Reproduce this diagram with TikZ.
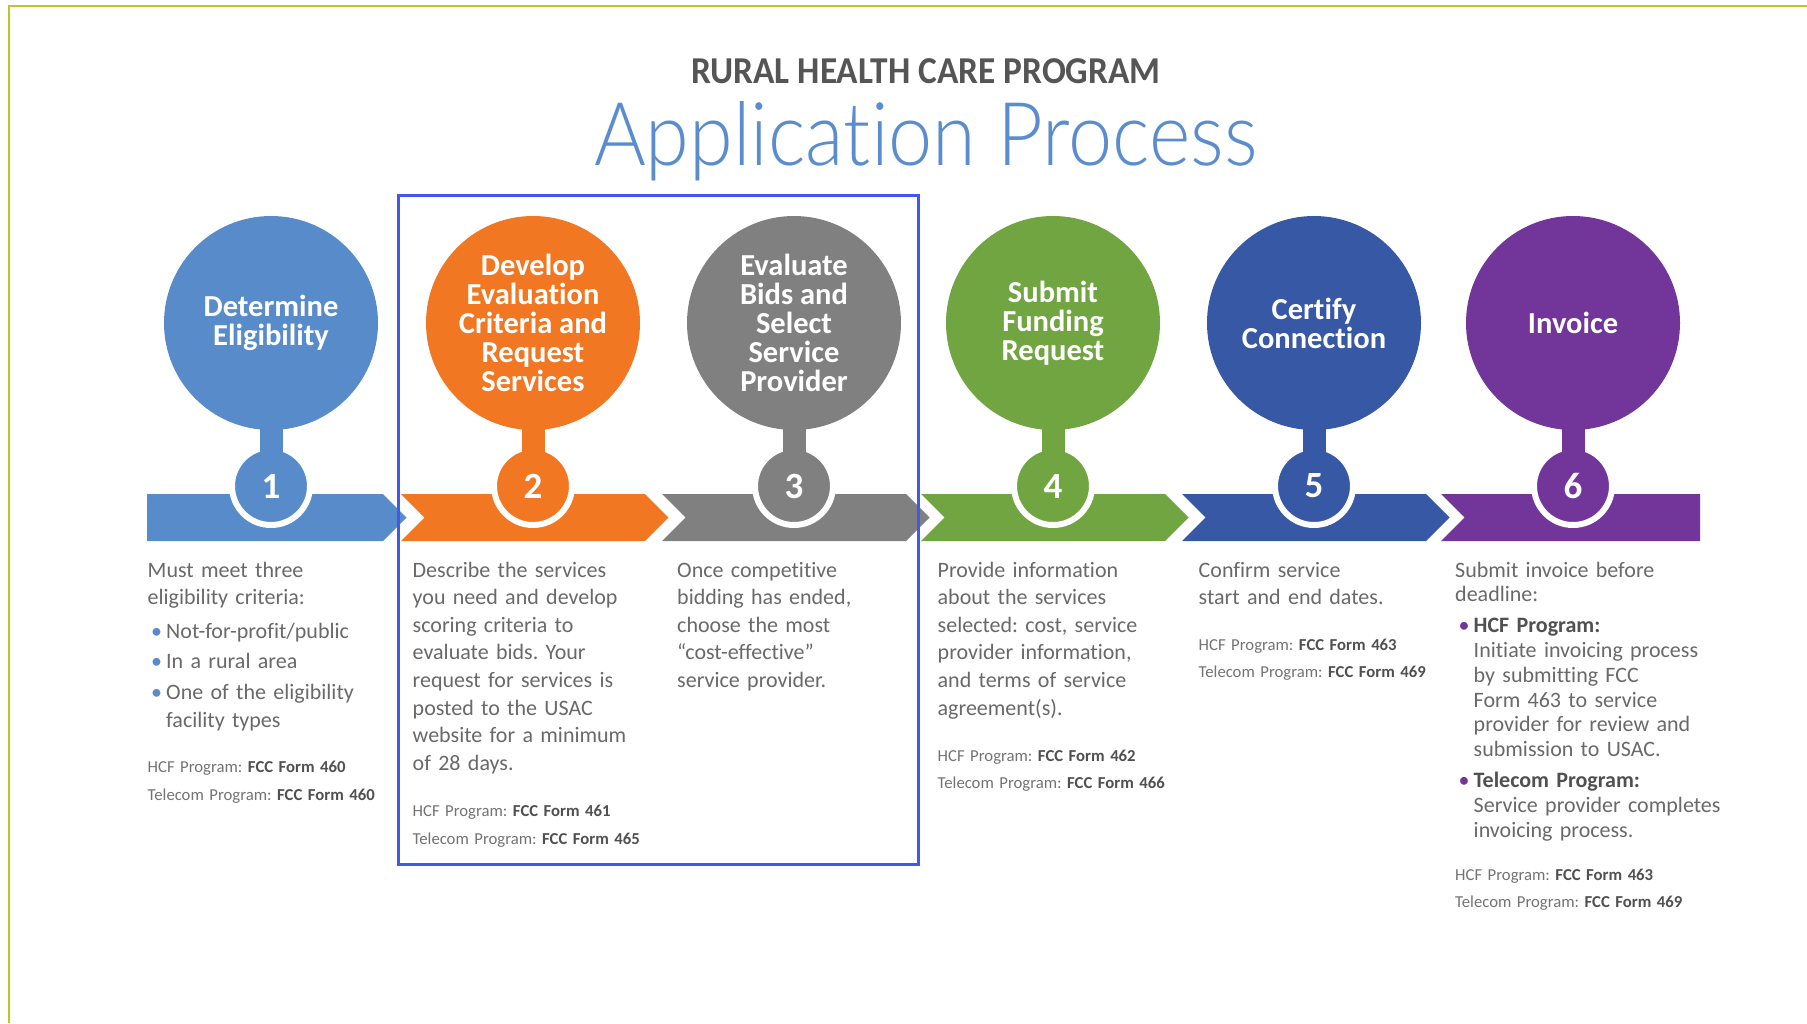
\documentclass[tikz,border=0pt]{standalone}
\usepackage{fontspec}
\setmainfont{Carlito}[Ligatures={TeX,NoCommon}]
\newfontfamily\lightfont{Lato}[UprightFont={* Light}, Ligatures=NoCommon]
\usepackage{tikz}
\usetikzlibrary{positioning}
\frenchspacing

\definecolor{stepA}{RGB}{87,139,202}
\definecolor{stepB}{RGB}{241,119,34}
\definecolor{stepC}{RGB}{128,128,128}
\definecolor{stepD}{RGB}{113,165,66}
\definecolor{stepE}{RGB}{55,88,165}
\definecolor{stepF}{RGB}{114,54,155}
\definecolor{titlegray}{RGB}{85,85,85}
\definecolor{titleblue}{RGB}{91,141,206}
\definecolor{bodygray}{RGB}{105,105,105}
\definecolor{formgray}{RGB}{115,115,115}
\definecolor{formdark}{RGB}{80,80,80}
\definecolor{framegreen}{RGB}{188,198,40}
\definecolor{boxblue}{RGB}{66,88,235}

% bullet, hanging line and form number
\newcommand{\bul}[1]{\makebox[18.5pt][l]{\hspace*{3.5pt}\textcolor{#1}{\textbullet}}}
\newcommand{\contline}{\hspace*{18.5pt}}
\newcommand{\fccform}[1]{\textbf{\textcolor{formdark}{FCC Form #1}}}

\begin{document}
\begin{tikzpicture}[x=1pt, y=-1pt,
    bigdot/.style={circle, minimum size=214pt, inner sep=0pt, text=white, align=center,
        font=\bfseries\fontsize{30.5}{29}\selectfont},
    numdot/.style={circle, minimum size=78pt, inner sep=0pt, draw=white, line width=6pt,
        text=white, font=\bfseries\fontsize{37}{37}\selectfont},
    stem/.style={line width=23pt, shorten <=-4pt, shorten >=-8pt},
    desc/.style={anchor=base west, align=left, text width=290pt, inner sep=0pt,
        text=bodygray, font=\fontsize{22}{27.6}\selectfont},
    form/.style={anchor=base west, align=left, text width=290pt, inner sep=0pt,
        text=formgray, font=\fontsize{16.7}{27.6}\selectfont}]
    \useasboundingbox (0,0) rectangle (1807,1023);
    \fill[white] (0,0) rectangle (1807,1023);
    \draw[framegreen, line width=2pt] (9,1023) -- (9,6) -- (1807,6);

    % heading
    \node[anchor=base, text=titlegray, font=\bfseries\fontsize{38}{38}\selectfont] (program) at (926,83)
        {\scalebox{0.93}[1]{RURAL HEALTH CARE PROGRAM}};
    \node[anchor=base, text=titleblue, font=\lightfont\fontsize{88}{88}\selectfont] (heading) at (926,165)
        {\scalebox{0.9}[1]{Application Process}};

    % step 1
    \fill[stepA] (147,494) -- (383,494) -- (406.5,517.5) -- (383,541) -- (147,541) -- cycle;
    \node[numdot, fill=stepA] (num1) at (271,486) {1};
    \node[bigdot, fill=stepA] (determine) at (271,323) {Determine\\Eligibility};
    \draw[stem, stepA] (determine) -- (num1);

    % step 2
    \fill[stepB] (401,494) -- (645,494) -- (668.5,517.5) -- (645,541) -- (401,541) -- (424.5,517.5) -- cycle;
    \node[numdot, fill=stepB] (num2) at (533,486) {2};
    \node[bigdot, fill=stepB] (develop) at (533,323) {Develop\\Evaluation\\Criteria and\\Request\\Services};
    \draw[stem, stepB] (develop) -- (num2);

    % step 3
    \fill[stepC] (662,494) -- (906,494) -- (929.5,517.5) -- (906,541) -- (662,541) -- (685.5,517.5) -- cycle;
    \node[numdot, fill=stepC] (num3) at (794,486) {3};
    \node[bigdot, fill=stepC] (evaluate) at (794,323) {Evaluate\\Bids and\\Select\\Service\\Provider};
    \draw[stem, stepC] (evaluate) -- (num3);

    % step 4
    \fill[stepD] (921,494) -- (1165,494) -- (1188.5,517.5) -- (1165,541) -- (921,541) -- (944.5,517.5) -- cycle;
    \node[numdot, fill=stepD] (num4) at (1053,486) {4};
    \node[bigdot, fill=stepD] (submit) at (1053,323) {Submit\\Funding\\Request};
    \draw[stem, stepD] (submit) -- (num4);

    % step 5
    \fill[stepE] (1182,494) -- (1426,494) -- (1449.5,517.5) -- (1426,541) -- (1182,541) -- (1205.5,517.5) -- cycle;
    \node[numdot, fill=stepE] (num5) at (1314,486) {5};
    \node[bigdot, fill=stepE] (certify) at (1314,323) {Certify\\Connection};
    \draw[stem, stepE] (certify) -- (num5);

    % step 6
    \fill[stepF] (1441,494) -- (1700,494) -- (1700,541) -- (1441,541) -- (1464.5,517.5) -- cycle;
    \node[numdot, fill=stepF] (num6) at (1573,486) {6};
    \node[bigdot, fill=stepF] (invoice) at (1573,323) {Invoice};
    \draw[stem, stepF] (invoice) -- (num6);

    % texts under the steps
    \node[desc] (determine text) at (147.5,577) {Must meet three\\ eligibility criteria:\\[6pt]
        \bul{stepA}Not-for-profit/public\\[2.5pt]
        \bul{stepA}In a rural area\\[3.5pt]
        \bul{stepA}One of the eligibility\\
        \contline facility types};
    \node[form] (determine forms) at (147.5,772.5) {HCF Program: \fccform{460}\\ Telecom Program: \fccform{460}};

    \node[desc] (develop text) at (412.5,577) {Describe the services\\ you need and develop\\ scoring criteria to\\
        evaluate bids. Your\\ request for services is\\ posted to the USAC\\ website for a minimum\\ of 28 days.};
    \node[form] (develop forms) at (412.5,816.5) {HCF Program: \fccform{461}\\ Telecom Program: \fccform{465}};

    \node[desc] (evaluate text) at (677,577) {Once competitive\\ bidding has ended,\\ choose the most\\
        “cost-effective”\\ service provider.};

    \node[desc] (submit text) at (937.5,577) {Provide information\\ about the services\\ selected: cost, service\\
        provider information,\\ and terms of service\\ agreement(s).};
    \node[form] (submit forms) at (937.5,761) {HCF Program: \fccform{462}\\ Telecom Program: \fccform{466}};

    \node[desc] (certify text) at (1198.5,577) {Confirm service\\ start and end dates.};
    \node[form] (certify forms) at (1198.5,650) {HCF Program: \fccform{463}\\ Telecom Program: \fccform{469}};

    \node[desc, font=\fontsize{22}{24.8}\selectfont] (invoice text) at (1455,577) {Submit invoice before\\ deadline:\\[6pt]
        \bul{stepF}\textbf{\textcolor{formdark}{HCF Program:}}\\
        \contline Initiate invoicing process\\ \contline by submitting FCC\\ \contline Form 463 to service\\
        \contline provider for review and\\ \contline submission to USAC.\\[6pt]
        \bul{stepF}\textbf{\textcolor{formdark}{Telecom Program:}}\\
        \contline Service provider completes\\ \contline invoicing process.};
    \node[form] (invoice forms) at (1455,880) {HCF Program: \fccform{463}\\ Telecom Program: \fccform{469}};

    % highlight box round steps 2 and 3
    \draw[boxblue, line width=3pt] (398,195) rectangle (918,864);
\end{tikzpicture}
\end{document}
